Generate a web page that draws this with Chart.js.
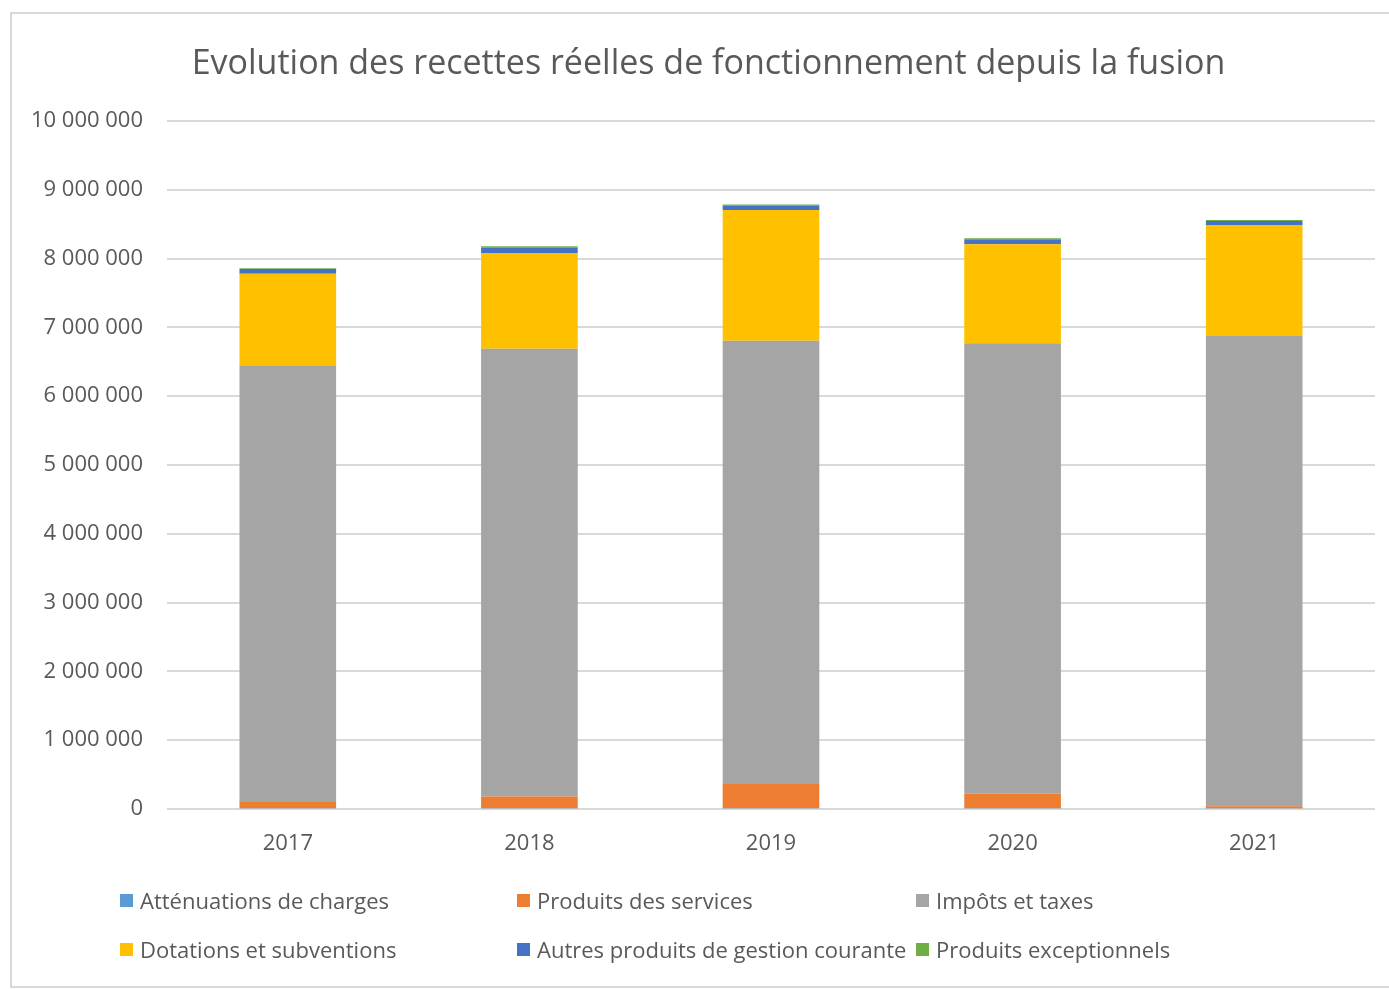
<!DOCTYPE html>
<html><head><meta charset="utf-8">
<script src="https://cdn.jsdelivr.net/npm/chart.js@4.4.1/dist/chart.umd.min.js"></script>
<style>
html,body{margin:0;padding:0;background:#fff;width:1389px;height:989px;overflow:hidden;}
#frame{position:absolute;left:10px;top:12px;width:1400px;height:976px;border:2px solid #d9d9d9;box-sizing:border-box;}
#wrap{position:absolute;left:0;top:0;width:1389px;height:989px;}
#title{position:absolute;left:0;width:1417px;top:38px;text-align:center;font-family:"Open Sans",sans-serif;font-size:34px;color:#595959;white-space:nowrap;}
.leg{position:absolute;font-family:"Open Sans",sans-serif;font-size:22px;color:#595959;white-space:nowrap;display:flex;align-items:center;}
.leg span.b{display:inline-block;width:13px;height:13px;margin-right:7px;}
</style></head>
<body>
<div id="frame"></div>
<div id="wrap"><canvas id="c" width="1389" height="989"></canvas></div>
<div id="title">Evolution des recettes réelles de fonctionnement depuis la fusion</div>
<div id="legend"></div>
<script>
const categories = ["2017","2018","2019","2020","2021"];
const attenuations = [10000, 10000, 10000, 10000, 10000];
const produitsServices = [90000, 170000, 355000, 210000, 30000];
const impots = [6340000, 6510000, 6440000, 6550000, 6835000];
const dotations = [1340000, 1390000, 1900000, 1440000, 1615000];
const autresProduits = [70000, 83000, 68000, 62000, 55000];
const exceptionnels = [10000, 15000, 15000, 25000, 15000];
const seriesLabels = ["Atténuations de charges","Produits des services","Impôts et taxes","Dotations et subventions","Autres produits de gestion courante","Produits exceptionnels"];
const colors = ["#5B9BD5","#ED7D31","#A5A5A5","#FFC000","#4472C4","#70AD47"];
const yMax = 10000000, yStep = 1000000;

const seriesData = [attenuations, produitsServices, impots, dotations, autresProduits, exceptionnels];
const fmt = v => String(Math.round(v)).replace(/\B(?=(\d{3})+(?!\d))/g, " ");

new Chart(document.getElementById("c"), {
  type: "bar",
  data: {
    labels: categories,
    datasets: seriesData.map((d,i)=>({label:seriesLabels[i], data:d, backgroundColor:colors[i], borderWidth:0, barPercentage:0.4, categoryPercentage:1}))
  },
  options: {
    responsive:false, animation:false,
    layout:{padding:{left:0,right:14,top:121,bottom:120}},
    plugins:{legend:{display:false}, title:{display:false}, tooltip:{enabled:false}},
    scales:{
      x:{stacked:true, grid:{display:false, drawTicks:false}, border:{display:false},
         ticks:{color:"#595959", font:{family:"Open Sans", size:22}, padding:22},
         afterFit: s => { s.height = 60; }},
      y:{stacked:true, min:0, max:yMax, grid:{color:"#d9d9d9", lineWidth:2, drawTicks:false}, border:{display:false},
         ticks:{stepSize:yStep, color:"#595959", font:{family:"Open Sans", size:22}, padding:24, callback: v => fmt(v)},
         afterFit: s => { s.width = 167; }}
    }
  }
});

const legendPos = [[120,901],[517,901],[916,901],[120,950],[517,950],[916,950]];
const leg = document.getElementById("legend");
seriesLabels.forEach((l,i)=>{
  const d = document.createElement("div");
  d.className = "leg";
  d.style.left = legendPos[i][0] + "px";
  d.style.top = (legendPos[i][1] - 16) + "px";
  d.style.height = "30px";
  d.innerHTML = '<span class="b" style="background:'+colors[i]+'"></span>' + l;
  leg.appendChild(d);
});
</script>
</body></html>
